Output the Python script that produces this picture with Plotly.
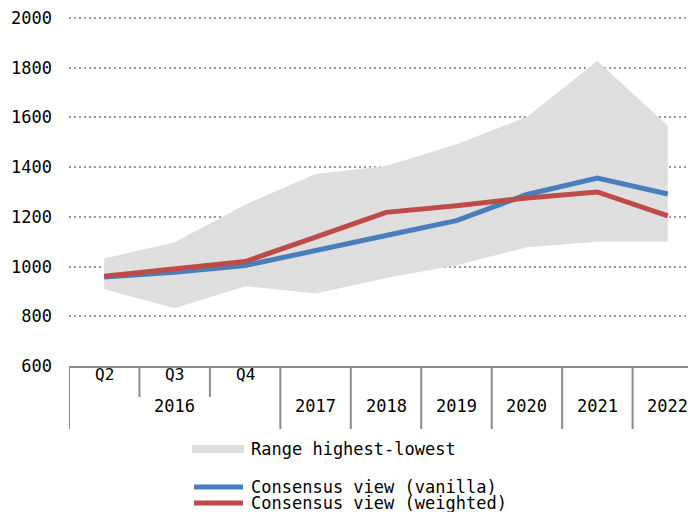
import plotly.graph_objects as go

# ---- data ----
categories = ["2016 Q2", "2016 Q3", "2016 Q4", "2017", "2018", "2019", "2020", "2021", "2022"]
quarter_labels = ["Q2", "Q3", "Q4", "", "", "", "", "", ""]
year_of_cat = ["2016", "2016", "2016", "2017", "2018", "2019", "2020", "2021", "2022"]
range_high = [1032, 1098, 1249, 1372, 1405, 1492, 1602, 1827, 1566]
range_low = [909, 832, 921, 892, 954, 1005, 1078, 1100, 1100]
vanilla = [958, 977, 1004, 1062, 1125, 1185, 1290, 1356, 1292]
weighted = [961, 989, 1020, 1118, 1218, 1245, 1276, 1300, 1204]
y_ticks = [600, 800, 1000, 1200, 1400, 1600, 1800, 2000]
series_names = ["Range highest-lowest", "Consensus view (vanilla)", "Consensus view (weighted)"]
series_colors = ["#dedede", "#4a7ebb", "#be4b48"]

FONT = "DejaVu Sans Mono"
OFF = 8  # page body margin
W, H = 696 - OFF, 512 - OFF
ML, MT = 69 - OFF, 15 - OFF
PLOT_BOTTOM = 366 - OFF
MB = H - PLOT_BOTTOM
plot_h = H - MT - MB
plot_w = W - ML

def py(pix):  # window pixel row -> paper y
    return (PLOT_BOTTOM - (pix - OFF)) / plot_h

def px(pix):  # window pixel column -> paper x
    return (pix - OFF - ML) / plot_w

fig = go.Figure()
fig.add_trace(go.Scatter(x=categories, y=range_low, mode="lines", line=dict(width=0, color=series_colors[0]),
                         showlegend=False, hoverinfo="skip"))
fig.add_trace(go.Scatter(x=categories, y=range_high, mode="lines", line=dict(width=0, color=series_colors[0]),
                         fill="tonexty", fillcolor=series_colors[0], name=series_names[0], showlegend=False))
fig.add_trace(go.Scatter(x=categories, y=vanilla, mode="lines", line=dict(width=5, color=series_colors[1]),
                         name=series_names[1], showlegend=False))
fig.add_trace(go.Scatter(x=categories, y=weighted, mode="lines", line=dict(width=5, color=series_colors[2]),
                         name=series_names[2], showlegend=False))

shapes = []
annotations = []
n = len(categories)
# dividers between categories
for i in range(n + 1):
    xpos = i - 0.5
    if i == 0 or i == n:
        full = True
    else:
        full = year_of_cat[i] != year_of_cat[i - 1]
    y1 = py(429) if full else py(397)
    shapes.append(dict(type="line", xref="x", yref="paper", x0=xpos, x1=xpos, y0=0, y1=y1,
                       line=dict(color="#8c8c8c", width=2)))
# quarter labels
for c, q in zip(categories, quarter_labels):
    if q:
        annotations.append(dict(x=c, y=py(386), xref="x", yref="paper", text=q, showarrow=False,
                                font=dict(family=FONT, size=16, color="#000")))
# year labels
years = []
for y in year_of_cat:
    if y not in years:
        years.append(y)
for y in years:
    idx = [i for i, v in enumerate(year_of_cat) if v == y]
    xc = sum(idx) / len(idx)
    annotations.append(dict(x=xc, y=py(418), xref="x", yref="paper", text=y, showarrow=False,
                            font=dict(family=FONT, size=17, color="#000")))

# manual legend
leg_rows = [449, 487, 503]
for k, (name, col, row) in enumerate(zip(series_names, series_colors, leg_rows)):
    if k == 0:
        shapes.append(dict(type="rect", xref="paper", yref="paper", x0=px(192), x1=px(244),
                           y0=py(453), y1=py(445), fillcolor=col, line=dict(width=0)))
    else:
        shapes.append(dict(type="line", xref="paper", yref="paper", x0=px(194), x1=px(243),
                           y0=py(row), y1=py(row), line=dict(color=col, width=5)))
    annotations.append(dict(x=px(249), y=py(row), xref="paper", yref="paper", text=name,
                            showarrow=False, xanchor="left", yanchor="middle",
                            font=dict(family=FONT, size=17, color="#000")))

fig.update_layout(
    width=W, height=H,
    margin=dict(l=ML, r=0, t=MT, b=MB),
    plot_bgcolor="white", paper_bgcolor="white",
    font=dict(family=FONT, size=17, color="#000"),
    xaxis=dict(type="category", range=[-0.5, n - 0.6], showticklabels=False, showgrid=False,
               showline=True, linecolor="#8c8c8c", linewidth=2, ticks="", zeroline=False,
               automargin=False, fixedrange=True),
    yaxis=dict(range=[600, 2012], tickvals=y_ticks, ticktext=[str(v) for v in y_ticks],
               showgrid=True, gridcolor="#999999", gridwidth=2, griddash="2px,3px",
               zeroline=False, showline=False, ticks="", ticklabelstandoff=16,
               ticklabeloverflow="allow",
               automargin=False, tickfont=dict(family=FONT, size=17)),
    shapes=shapes, annotations=annotations,
    showlegend=False,
)

fig.write_html("out.html")
